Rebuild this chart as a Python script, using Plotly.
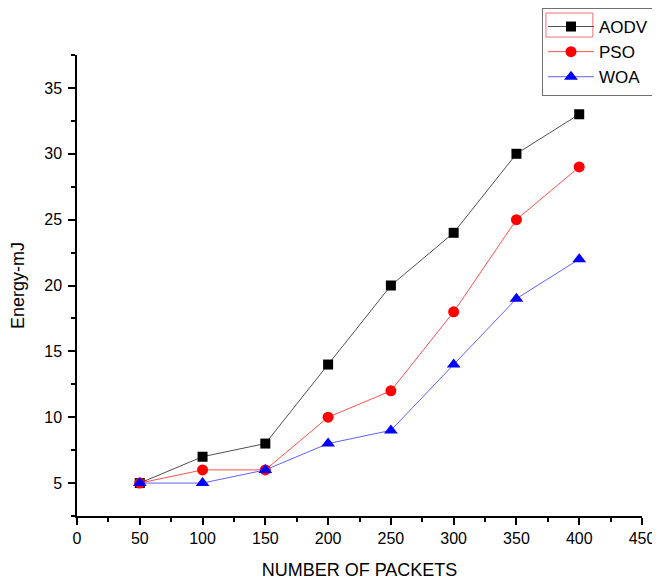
import plotly.graph_objects as go

packets = [50, 100, 150, 200, 250, 300, 350, 400]
aodv = [5, 7, 8, 14, 20, 24, 30, 33]
pso = [5, 6, 6, 10, 12, 18, 25, 29]
woa = [5, 5, 6, 8, 9, 14, 19, 22]

FONT = "Arial, Liberation Sans, sans-serif"

fig = go.Figure()
fig.add_trace(go.Scatter(x=packets, y=aodv, name="AODV", mode="lines+markers",
                         line=dict(color="#505050", width=1),
                         marker=dict(symbol="square", size=10, color="black")))
fig.add_trace(go.Scatter(x=packets, y=pso, name="PSO", mode="lines+markers",
                         line=dict(color="#ff5050", width=1),
                         marker=dict(symbol="circle", size=11, color="red")))
fig.add_trace(go.Scatter(x=packets, y=woa, name="WOA", mode="lines+markers",
                         line=dict(color="#6060ff", width=1),
                         marker=dict(symbol="triangle-up", size=12, color="blue")))

axis_common = dict(showline=True, linecolor="black", linewidth=1.5, showgrid=False,
                   zeroline=False, ticks="outside", ticklen=7, tickwidth=1.5,
                   tickcolor="black", tickfont=dict(family=FONT, size=16, color="black"),
                   minor=dict(ticks="outside", ticklen=4, tickwidth=1.5, tickcolor="black"))

fig.update_xaxes(range=[0, 450], tickvals=[0, 50, 100, 150, 200, 250, 300, 350, 400, 450],
                 minor_dtick=25,
                 title=dict(text="NUMBER OF PACKETS", font=dict(family=FONT, size=18, color="black"),
                            standoff=17),
                 **axis_common)
fig.update_yaxes(range=[2.5, 37.5], tickvals=[5, 10, 15, 20, 25, 30, 35], minor_dtick=2.5,
                 minor_tick0=2.5, ticklabelstandoff=3,
                 title=dict(text="Energy-mJ", font=dict(family=FONT, size=18, color="black"),
                            standoff=15),
                 **axis_common)

fig.update_layout(
    width=652, height=573,
    margin=dict(l=69, r=18, t=47, b=65, autoexpand=False),
    plot_bgcolor="white", paper_bgcolor="white",
    font=dict(family=FONT, color="black"),
    legend=dict(x=0.823, y=1.102, xanchor="left", yanchor="top",
                bordercolor="#707070", borderwidth=1, bgcolor="rgba(0,0,0,0)",
                font=dict(family=FONT, size=17, color="black"),
                tracegroupgap=0, itemwidth=46),
    shapes=[dict(type="rect", xref="paper", yref="paper", x0=0.830, x1=0.913,
                 y0=1.0390, y1=1.0911, line=dict(color="#f07070", width=1))],
)

fig.write_html("out.html")
